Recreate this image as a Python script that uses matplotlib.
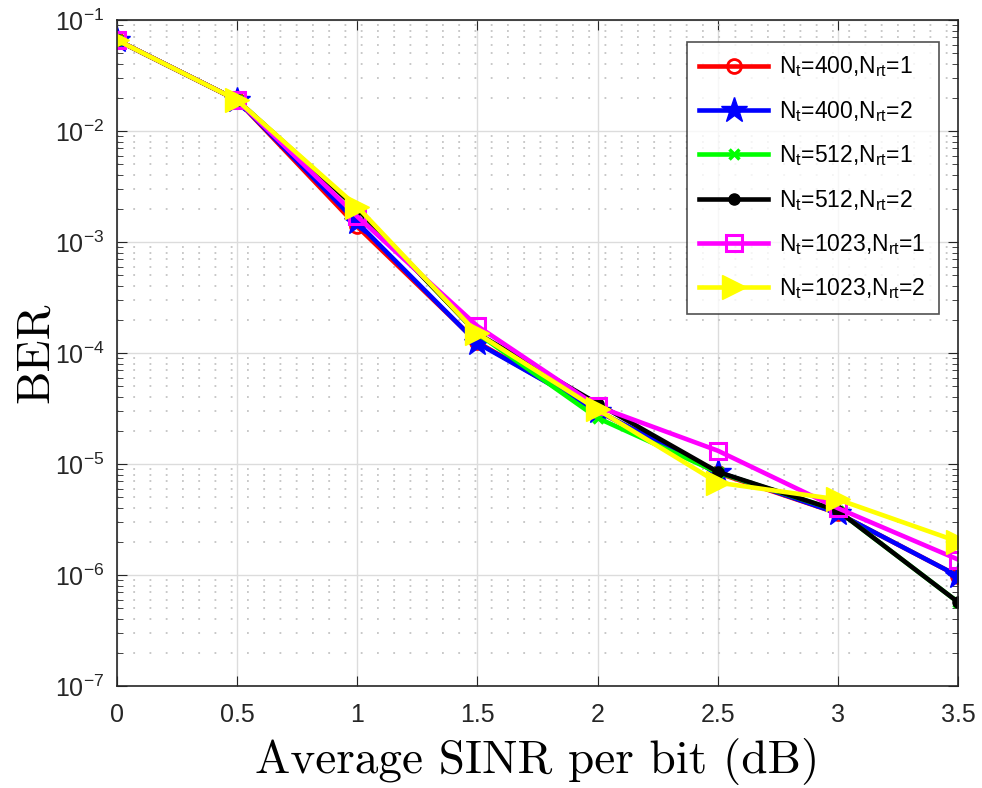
import matplotlib
matplotlib.use("Agg")
import matplotlib.pyplot as plt
import numpy as np

snr = [0, 0.5, 1.0, 1.5, 2.0, 2.5, 3.0, 3.5]
ber_400_1 = [0.066, 0.019, 1.38e-3, 1.25e-4, 3.0e-5, 8.3e-6, 3.6e-6, 9.8e-7]
ber_400_2 = [0.066, 0.019, 1.50e-3, 1.23e-4, 3.0e-5, 8.5e-6, 3.6e-6, 9.8e-7]
ber_512_1 = [0.066, 0.019, 2.00e-3, 1.50e-4, 2.6e-5, 8.4e-6, 3.8e-6, 5.7e-7]
ber_512_2 = [0.066, 0.019, 2.00e-3, 1.50e-4, 3.5e-5, 8.5e-6, 3.8e-6, 5.7e-7]
ber_1023_1 = [0.066, 0.019, 1.70e-3, 1.75e-4, 3.3e-5, 1.32e-5, 4.0e-6, 1.38e-6]
ber_1023_2 = [0.066, 0.019, 2.08e-3, 1.50e-4, 3.1e-5, 6.8e-6, 4.8e-6, 2.0e-6]

labels = [r'N$_{\rm t}$=400,N$_{\rm rt}$=1', r'N$_{\rm t}$=400,N$_{\rm rt}$=2',
          r'N$_{\rm t}$=512,N$_{\rm rt}$=1', r'N$_{\rm t}$=512,N$_{\rm rt}$=2',
          r'N$_{\rm t}$=1023,N$_{\rm rt}$=1', r'N$_{\rm t}$=1023,N$_{\rm rt}$=2']

plt.rcParams['font.family'] = ['Liberation Sans', 'DejaVu Sans']
plt.rcParams['mathtext.fontset'] = 'custom'
plt.rcParams['mathtext.rm'] = 'Liberation Sans'
plt.rcParams['mathtext.it'] = 'Liberation Sans'

fig = plt.figure(figsize=(9.82, 7.88), dpi=100)
ax = fig.add_axes([0.119, 0.1294, 0.8566, 0.8452])

lw = 3.3
ax.plot(snr, ber_400_1, color='#ff0000', lw=lw, marker='o', ms=10, mfc='none', mew=2, label=labels[0])
ax.plot(snr, ber_400_2, color='#0000ff', lw=lw, marker='*', ms=19, label=labels[1])
ax.plot(snr, ber_512_1, color='#00ff00', lw=lw, marker='x', ms=7, mew=2.5, label=labels[2])
ax.plot(snr, ber_512_2, color='#000000', lw=lw, marker='o', ms=8, label=labels[3])
ax.plot(snr, ber_1023_1, color='#ff00ff', lw=lw, marker='s', ms=11, mfc='none', mew=2.2, label=labels[4])
ax.plot(snr, ber_1023_2, color='#ffff00', lw=lw, marker='>', ms=17, label=labels[5])

ax.set_yscale('log')
ax.set_xlim(0, 3.5)
ax.set_ylim(1e-7, 1e-1)
ax.set_xticks([0, 0.5, 1, 1.5, 2, 2.5, 3, 3.5])
ax.set_xticklabels(['0', '0.5', '1', '1.5', '2', '2.5', '3', '3.5'])
ax.set_yticks([10.0**k for k in range(-7, 0)])
ax.set_yticklabels([r'10$^{%d}$' % k for k in range(-7, 0)])
ax.yaxis.set_minor_locator(matplotlib.ticker.LogLocator(base=10, subs=np.arange(2, 10), numticks=20))
ax.yaxis.set_minor_formatter(matplotlib.ticker.NullFormatter())

ax.grid(True, which='major', color='#dcdcdc', lw=1.0, ls='-')
ax.grid(True, which='minor', axis='y', color='#c4c4c4', lw=1.3, ls=(0, (1, 8)))
ax.tick_params(which='both', direction='in', top=True, right=True, labelsize=18, colors='#262626')
ax.tick_params(which='major', length=7)
ax.tick_params(which='minor', length=4)
ax.tick_params(axis='x', pad=12)
ax.tick_params(axis='y', pad=9)
for s in ax.spines.values():
    s.set_color('#262626')
    s.set_linewidth(1.2)

ax.set_xlabel('Average SINR per bit (dB)', family='cmr10', fontsize=34, labelpad=8)
ax.set_ylabel('BER', family='cmr10', fontsize=34, labelpad=-2)

leg = ax.legend(loc='upper right', fontsize=16.5, frameon=True, fancybox=False,
                edgecolor='#262626', handlelength=3.0, borderpad=0.55, labelspacing=0.85,
                handletextpad=0.5, borderaxespad=0, bbox_to_anchor=(0.977, 0.967))
leg.get_frame().set_linewidth(1.2)

fig.savefig('out.png', dpi=100)
